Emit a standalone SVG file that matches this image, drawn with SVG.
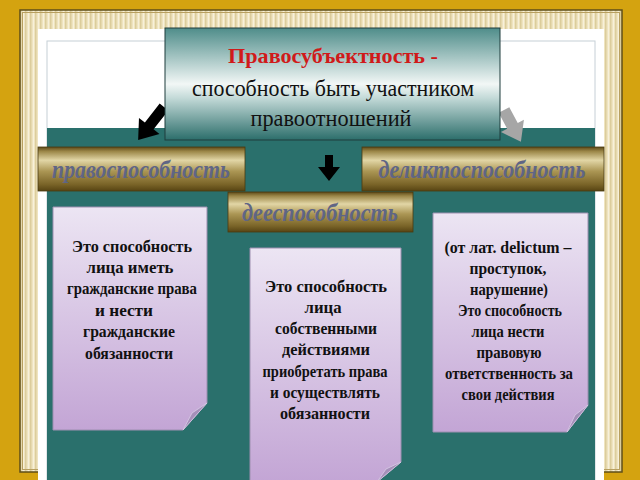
<svg xmlns="http://www.w3.org/2000/svg" width="640" height="480" viewBox="0 0 640 480">
<defs>
<pattern id="stripes" width="5" height="5" patternUnits="userSpaceOnUse">
<rect width="5" height="5" fill="#efe4c0"/>
<rect x="0" width="1.5" height="5" fill="#dccd9c"/>
<rect x="3" width="1" height="5" fill="#f7f0da"/>
</pattern>
<linearGradient id="titleGrad" x1="0" y1="0" x2="0" y2="1">
<stop offset="0" stop-color="#4f8d8a"/>
<stop offset="0.5" stop-color="#f2f7f6"/>
<stop offset="0.62" stop-color="#c5dbd9"/>
<stop offset="1" stop-color="#2c6e6b"/>
</linearGradient>
<linearGradient id="bronze" x1="0" y1="0" x2="0" y2="1">
<stop offset="0" stop-color="#5e4a18"/>
<stop offset="0.1" stop-color="#9c8748"/>
<stop offset="0.3" stop-color="#e2d6a6"/>
<stop offset="0.55" stop-color="#ab9654"/>
<stop offset="0.85" stop-color="#7a6428"/>
<stop offset="1" stop-color="#574413"/>
</linearGradient>
<linearGradient id="lav" x1="0" y1="0" x2="0" y2="1">
<stop offset="0" stop-color="#ece5f3"/>
<stop offset="1" stop-color="#c3a5d5"/>
</linearGradient>
<style>
.bar{fill:url(#bronze);stroke:#4a3a10;stroke-width:0.8}
.barText{font-family:"Liberation Serif",serif;font-style:italic;font-weight:bold;font-size:25px;fill:#5f6585;text-anchor:middle}
.card{fill:url(#lav);stroke:#9d8fb0;stroke-width:1}
.fold{fill:#a58fb9;stroke:#d8cce6;stroke-width:0.8}
.cardText{font-family:"Liberation Serif",serif;font-weight:bold;font-size:17px;fill:#111;text-anchor:middle}
.titleText{font-family:"Liberation Serif",serif;font-size:23px;fill:#111;text-anchor:middle}
</style>
</defs>

<!-- background and frame -->
<rect width="640" height="480" fill="#d4a310"/>
<rect x="20" y="10" width="602" height="462" fill="url(#stripes)" stroke="#5f4f18" stroke-width="1.5"/>
<rect x="22.5" y="12.5" width="597" height="457" fill="none" stroke="#b8a060" stroke-width="1"/>
<rect x="38" y="29" width="566" height="451" fill="#ffffff"/>
<rect x="47" y="41" width="548" height="439" fill="#ffffff" stroke="#c6cfd6" stroke-width="1"/>
<rect x="47" y="128" width="548" height="352" fill="#2a706c"/>

<!-- connectors -->
<g id="connectors">
<polygon points="0,-5.5 24,-5.5 24,-13 42,0 24,13 24,5.5 0,5.5" fill="#000" transform="translate(164,107) rotate(128)"/>
<polygon points="0,-6 18,-6 18,-13 36,0 18,13 18,6 0,6" fill="#a6a6a6" transform="translate(504,110) rotate(62)"/>
<polygon points="325,155 333,155 333,167 340,167 329,181 318,167 325,167" fill="#000"/>
</g>

<g id="node-title">
<rect x="165" y="28" width="335" height="112" fill="url(#titleGrad)" stroke="#1f3d3c" stroke-width="1"/>
<text x="333" y="63" font-family="Liberation Serif, serif" font-weight="bold" font-size="22" fill="#d01a1a" text-anchor="middle" textLength="210" lengthAdjust="spacingAndGlyphs">Правосубъектность -</text>
<text class="titleText" x="333" y="96" textLength="282" lengthAdjust="spacingAndGlyphs">способность быть участником</text>
<text class="titleText" x="331" y="126" textLength="161" lengthAdjust="spacingAndGlyphs">правоотношений</text>
</g>

<g id="node-pravosposobnost">
<rect class="bar" x="38" y="147" width="207" height="44"/>
<text class="barText" x="141" y="178" textLength="178" lengthAdjust="spacingAndGlyphs">правоспособность</text>
</g>

<g id="node-deliktosposobnost">
<rect class="bar" x="362" y="147" width="242" height="44"/>
<text class="barText" x="482" y="178" textLength="207" lengthAdjust="spacingAndGlyphs">деликтоспособность</text>
</g>

<g id="node-deesposobnost">
<rect class="bar" x="228" y="192" width="185" height="40"/>
<text class="barText" x="320" y="221" textLength="156" lengthAdjust="spacingAndGlyphs">дееспособность</text>
</g>

<g id="card-left">
<path class="card" d="M53,207 H207 V403 L183,430 H53 Z"/>
<polygon class="fold" points="183,430 192,413 207,403"/>
<text class="cardText" x="132" y="252" textLength="120" lengthAdjust="spacingAndGlyphs">Это  способность</text>
<text class="cardText" x="130" y="273" textLength="87" lengthAdjust="spacingAndGlyphs">лица иметь</text>
<text class="cardText" x="132" y="294" textLength="130" lengthAdjust="spacingAndGlyphs">гражданские права</text>
<text class="cardText" x="124" y="316" textLength="58" lengthAdjust="spacingAndGlyphs">и нести</text>
<text class="cardText" x="129" y="337" textLength="92" lengthAdjust="spacingAndGlyphs">гражданские</text>
<text class="cardText" x="129" y="359" textLength="88" lengthAdjust="spacingAndGlyphs">обязанности</text>
</g>

<g id="card-middle">
<path class="card" d="M250,248 H401 V462 L377,482 H250 Z"/>
<polygon class="fold" points="377,482 386,469 401,462"/>
<text class="cardText" x="326" y="292" textLength="122" lengthAdjust="spacingAndGlyphs">Это  способность</text>
<text class="cardText" x="323" y="313" textLength="37" lengthAdjust="spacingAndGlyphs">лица</text>
<text class="cardText" x="326" y="334" textLength="102" lengthAdjust="spacingAndGlyphs">собственными</text>
<text class="cardText" x="326" y="355" textLength="88" lengthAdjust="spacingAndGlyphs">действиями</text>
<text class="cardText" x="325" y="377" textLength="125" lengthAdjust="spacingAndGlyphs">приобретать права</text>
<text class="cardText" x="325" y="398" textLength="110" lengthAdjust="spacingAndGlyphs">и осуществлять</text>
<text class="cardText" x="325" y="419" textLength="90" lengthAdjust="spacingAndGlyphs">обязанности</text>
</g>

<g id="card-right">
<path class="card" d="M433,213 H588 V405 L567,432 H433 Z"/>
<polygon class="fold" points="567,432 575,415 588,405"/>
<text class="cardText" x="508" y="253" textLength="127" lengthAdjust="spacingAndGlyphs">(от лат. delictum –</text>
<text class="cardText" x="508" y="274" textLength="77" lengthAdjust="spacingAndGlyphs">проступок,</text>
<text class="cardText" x="509" y="295" textLength="78" lengthAdjust="spacingAndGlyphs">нарушение)</text>
<text class="cardText" x="510" y="316" textLength="104" lengthAdjust="spacingAndGlyphs">Это способность</text>
<text class="cardText" x="508" y="337" textLength="73" lengthAdjust="spacingAndGlyphs">лица нести</text>
<text class="cardText" x="509" y="358" textLength="65" lengthAdjust="spacingAndGlyphs">правовую</text>
<text class="cardText" x="509" y="379" textLength="128" lengthAdjust="spacingAndGlyphs">ответственность за</text>
<text class="cardText" x="508" y="400" textLength="93" lengthAdjust="spacingAndGlyphs">свои действия</text>
</g>
</svg>
